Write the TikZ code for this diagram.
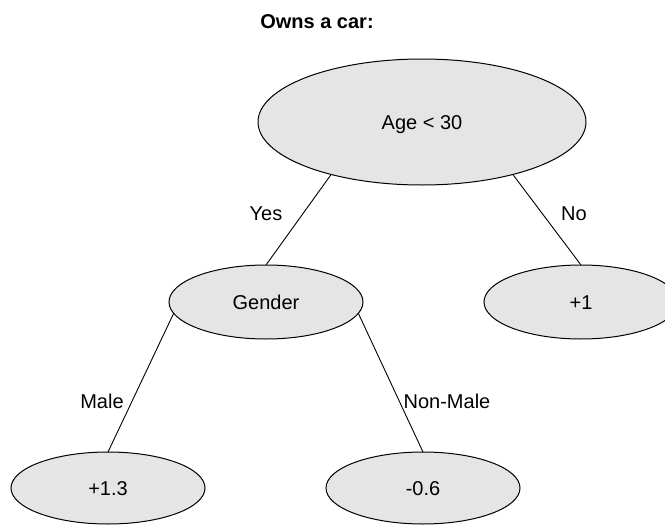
\documentclass[tikz,border=0pt]{standalone}
\usepackage{fontspec}
\setmainfont{Liberation Sans}
\usetikzlibrary{shapes.geometric}

\begin{document}
\begin{tikzpicture}[x=1pt,y=-1pt,
    every node/.style={font=\fontsize{20}{24}\selectfont},
    treenode/.style={ellipse,draw,fill=gray!20,line width=1pt,inner sep=0pt,outer sep=0pt,
        minimum width=194pt,minimum height=74pt,text height=14.5pt,text depth=0pt},
    branchlabel/.style={inner sep=0pt,text height=14.5pt,text depth=0pt}]
    \useasboundingbox (0,0) rectangle (665,525);
    \node[font=\fontsize{20}{24}\selectfont\bfseries,inner sep=0pt,text height=14.5pt,text depth=0pt] (title) at (317,21) {Owns a car:};
    \node[treenode,minimum width=328pt,minimum height=126pt] (age) at (422,122) {Age < 30};
    \node[treenode] (gender) at (266,302) {Gender};
    \node[treenode] (plusone) at (581,302) {+1};
    \node[treenode,minimum height=72pt] (male) at (108,488) {+1.3};
    \node[treenode,minimum height=72pt] (nonmale) at (423,488) {-0.6};
    \draw[line width=0.9pt] (age.210) -- (gender.north);
    \draw[line width=0.9pt] (age.330) -- (plusone.north);
    \draw[line width=0.9pt] (gender.187) -- (male.north);
    \draw[line width=0.9pt] (gender.353) -- (nonmale.north);
    \node[branchlabel] (yes) at (266,213) {Yes};
    \node[branchlabel] (no) at (574,213) {No};
    \node[branchlabel] (malelabel) at (102,401) {Male};
    \node[branchlabel] (nonmalelabel) at (447,401) {Non-Male};
\end{tikzpicture}
\end{document}
